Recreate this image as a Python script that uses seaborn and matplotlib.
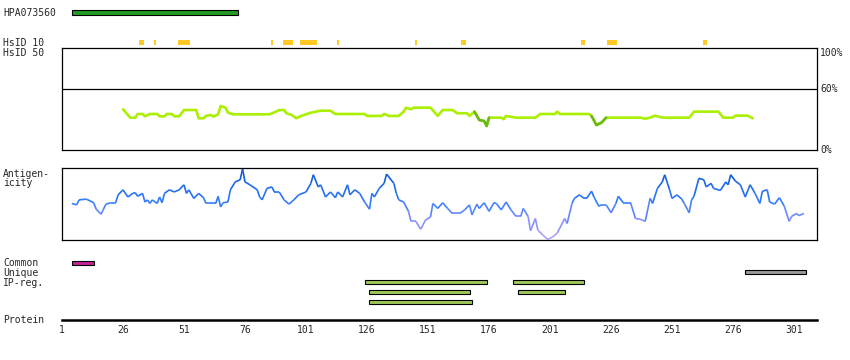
import numpy as np
import matplotlib
matplotlib.use('Agg')
import matplotlib.pyplot as plt
from matplotlib.collections import LineCollection
from matplotlib.colors import LinearSegmentedColormap
import seaborn as sns

# ---- data (residue positions) ----
hpa_label = "HPA073560"
hpa_range = (5, 73)

hsid10_starts = [33, 39, 49, 87, 92, 99, 114, 146, 165, 214, 225, 227, 264]
hsid10_ends = [34, 39, 53, 87, 95, 105, 114, 146, 166, 215, 226, 228, 265]

ident_pos = [26, 29, 31, 32, 34, 35, 37, 40, 41, 43, 44, 46, 47, 49, 51, 56, 57, 59,
             60, 62, 63, 65, 66, 68, 69, 71, 86, 88, 90, 92, 93, 95, 97, 99, 103, 107,
             111, 113, 125, 126, 132, 133, 135, 139, 141, 142, 144, 145, 152, 155, 157,
             161, 163, 167, 168, 170, 172, 174, 175, 176, 181, 182, 183, 187, 195, 197,
             203, 204, 205, 208, 217, 218, 220, 222, 224, 238, 240, 242, 244, 247, 258,
             260, 270, 272, 276, 277, 282, 284]
ident_val = [40.2, 32, 32, 35.6, 35.6, 33.3, 35.6, 35.6, 33.3, 33.3, 35.6, 35.6, 33.3,
             33.3, 39.5, 39.5, 31.4, 31.4, 33.7, 34.7, 33, 35.3, 43.4, 41.8, 36.9, 35.3,
             35.3, 37.2, 39.5, 39.5, 36.3, 34.7, 31.4, 33.7, 36.9, 38.8, 38.8, 35.6, 35.6,
             33.7, 33.7, 35.6, 33.7, 33.7, 37.9, 41.8, 40.2, 41.8, 41.8, 33.7, 39.5, 39.5,
             36.3, 36.3, 33.7, 37.9, 29.7, 28.7, 23.8, 32, 32, 30.5, 33.7, 32, 32, 35.6,
             35.6, 37.9, 35.6, 35.6, 35.6, 33.7, 24.8, 27, 32, 32, 31, 32, 34, 32, 32,
             37.9, 37.9, 32, 32, 34, 34, 31.4]

antig_pos = [5, 7, 8, 11, 14, 15, 17, 18, 19, 21, 23, 24, 26, 28, 30, 31, 32, 34, 35, 36,
             37, 38, 40, 41, 42, 43, 45, 47, 49, 51, 52, 53, 55, 57, 59, 60, 64, 65, 66,
             67, 69, 70, 72, 74, 75, 76, 78, 81, 82, 83, 85, 87, 88, 90, 92, 94, 96, 98,
             101, 103, 104, 106, 107, 109, 111, 113, 114, 116, 118, 119, 121, 123, 125,
             127, 128, 129, 131, 133, 134, 137, 138, 139, 141, 143, 144, 146, 148, 150,
             152, 153, 155, 157, 159, 161, 164, 166, 168, 169, 171, 172, 174, 176, 178,
             179, 181, 183, 185, 187, 189, 190, 192, 193, 195, 196, 198, 200, 202, 204,
             207, 208, 210, 211, 213, 215, 216, 218, 219, 221, 222, 224, 226, 228, 229,
             231, 234, 236, 238, 240, 242, 243, 245, 247, 248, 250, 251, 253, 255, 256,
             258, 259, 260, 262, 264, 265, 267, 268, 270, 271, 273, 274, 275, 277, 279,
             281, 283, 285, 287, 288, 290, 291, 293, 295, 297, 299, 300, 302, 303, 305]
antig_val = [0.51, 0.49, 0.56, 0.57, 0.52, 0.43, 0.36, 0.43, 0.50, 0.52, 0.52, 0.63, 0.70,
             0.60, 0.65, 0.66, 0.61, 0.65, 0.53, 0.56, 0.51, 0.56, 0.51, 0.60, 0.52, 0.65,
             0.70, 0.67, 0.70, 0.77, 0.65, 0.70, 0.58, 0.65, 0.59, 0.51, 0.51, 0.61, 0.46,
             0.52, 0.53, 0.70, 0.81, 0.84, 0.99, 0.81, 0.77, 0.70, 0.60, 0.56, 0.72, 0.74,
             0.67, 0.67, 0.56, 0.50, 0.56, 0.63, 0.67, 0.79, 0.91, 0.74, 0.77, 0.60, 0.67,
             0.59, 0.67, 0.60, 0.77, 0.63, 0.70, 0.65, 0.53, 0.43, 0.65, 0.60, 0.72, 0.79,
             0.92, 0.79, 0.65, 0.56, 0.53, 0.40, 0.26, 0.26, 0.15, 0.28, 0.32, 0.51, 0.44,
             0.52, 0.44, 0.37, 0.37, 0.42, 0.49, 0.35, 0.50, 0.44, 0.52, 0.40, 0.52, 0.51,
             0.42, 0.53, 0.42, 0.33, 0.33, 0.44, 0.33, 0.13, 0.30, 0.14, 0.07, 0.01, 0.04,
             0.10, 0.30, 0.23, 0.51, 0.58, 0.63, 0.58, 0.58, 0.68, 0.60, 0.47, 0.49, 0.49,
             0.38, 0.51, 0.61, 0.52, 0.52, 0.30, 0.29, 0.26, 0.58, 0.51, 0.72, 0.81, 0.91,
             0.70, 0.58, 0.63, 0.57, 0.51, 0.38, 0.56, 0.61, 0.86, 0.84, 0.74, 0.79, 0.72,
             0.70, 0.70, 0.81, 0.77, 0.91, 0.82, 0.77, 0.60, 0.77, 0.65, 0.51, 0.68, 0.70,
             0.53, 0.50, 0.59, 0.47, 0.26, 0.33, 0.37, 0.34, 0.37]

common_ranges = [(5, 14)]
unique_ranges = [(281, 306)]
ipreg_rows = [[(125, 175), (186, 215)],
              [(127, 168), (188, 207)],
              [(127, 169)]]

protein_len = 310.4
axis_ticks = [1, 26, 51, 76, 101, 126, 151, 176, 201, 226, 251, 276, 301]

# ---- layout (pixels) ----
W, H = 850, 360
X0, X1 = 62, 817
MONO = 'DejaVu Sans Mono'
FS = 7

sns.set_style("white")
plt.rcParams['font.family'] = [MONO, 'DejaVu Sans']

fig = plt.figure(figsize=(W / 100, H / 100), dpi=100)


def fy(y):
    return 1 - y / H


def panel(top, bottom):
    return fig.add_axes([X0 / W, fy(bottom), (X1 - X0) / W, (bottom - top) / H])


# background track area: x in residues, y in pixels
bg = fig.add_axes([X0 / W, 0, (X1 - X0) / W, 1])
bg.set_xlim(1, protein_len)
bg.set_ylim(H, 0)
bg.axis('off')


def draw_ranges(ranges, y, h, color, edge=True):
    for s, e in ranges:
        bg.barh(y, e - s, left=s, height=h, color=color,
                edgecolor='black' if edge else 'none', linewidth=0.8 if edge else 0)


draw_ranges([hpa_range], 12.5, 4.2, '#239a23')
draw_ranges([(s - 0.5, e + 0.5) for s, e in zip(hsid10_starts, hsid10_ends)],
            42.3, 4.6, '#ffc824', edge=False)
draw_ranges(common_ranges, 262.5, 4.0, '#c8209a')
draw_ranges(unique_ranges, 272.3, 4.0, '#9a9a9a')
for i, row in enumerate(ipreg_rows):
    draw_ranges(row, 282.3 + 10 * i, 4.0, '#9dc95a')

# identity panel
ax_id = panel(48.3, 150.3)
ax_id.set_xlim(1, protein_len)
ax_id.set_ylim(0, 100)
ax_id.set_xticks([])
ax_id.set_yticks([])
for sp in ax_id.spines.values():
    sp.set_linewidth(0.9)
    sp.set_color('black')
ax_id.axhline(60, color='black', lw=0.9)
ipos = np.array(ident_pos, dtype=float)
ival = np.array(ident_val, dtype=float)
sns.lineplot(x=ipos, y=ival, ax=ax_id, color='#aaf000', lw=1.9, estimator=None, sort=False)
low = ival < 30
low_ext = low | np.r_[low[1:], False] | np.r_[False, low[:-1]]
ax_id.plot(ipos, np.where(low_ext, ival, np.nan), color='#6cb818', lw=1.9)
ax_id.text(1.004, 1.0, "100%", transform=ax_id.transAxes, va='top', ha='left', fontsize=FS)
ax_id.text(1.004, 0.6, "60%", transform=ax_id.transAxes, va='center', ha='left', fontsize=FS)
ax_id.text(1.004, 0.0, "0%", transform=ax_id.transAxes, va='center', ha='left', fontsize=FS)

# antigenicity panel
ax_ag = panel(168.3, 240)
ax_ag.set_xlim(1, protein_len)
ax_ag.set_ylim(0, 1.0)
ax_ag.set_xticks([])
ax_ag.set_yticks([])
for sp in ax_ag.spines.values():
    sp.set_linewidth(0.9)
    sp.set_color('black')
apos = np.array(antig_pos, dtype=float)
aval = np.array(antig_val, dtype=float)
cmap = LinearSegmentedColormap.from_list(
    'ag', [(0, '#b4a6f6'), (0.3, '#7d8cff'), (0.55, '#2f7cff'), (1.0, '#0a52cc')])
pts = np.column_stack([apos, aval])
segs = np.stack([pts[:-1], pts[1:]], axis=1)
lc = LineCollection(segs, cmap=cmap, linewidths=1.2)
lc.set_array((aval[:-1] + aval[1:]) / 2)
lc.set_clim(0, 1)
ax_ag.add_collection(lc)

# protein axis
ax_p = fig.add_axes([X0 / W, fy(319.5), (X1 - X0) / W, 0.001])
ax_p.set_xlim(1, protein_len)
for k in ['top', 'left', 'right']:
    ax_p.spines[k].set_visible(False)
ax_p.spines['bottom'].set_linewidth(1.8)
ax_p.spines['bottom'].set_color('black')
ax_p.set_yticks([])
ax_p.set_xticks(axis_ticks)
ax_p.set_xticks([protein_len], minor=True)
ax_p.tick_params(axis='x', which='both', direction='inout', length=5, width=1.4,
                 pad=1.5, labelsize=FS, color='black')
ax_p.patch.set_alpha(0)

# left labels (baseline positions in pixels)
labels = [("HPA073560", 16), ("HsID 10", 45.7), ("HsID 50", 55.7),
          ("Antigen-", 176.7), ("icity", 186.3), ("Common", 265.7),
          ("Unique", 275.7), ("IP-reg.", 285.7), ("Protein", 322.7)]
for s, yb in labels:
    fig.text(3 / W, fy(yb), s, ha='left', va='baseline', fontsize=FS)

fig.savefig('out.png', dpi=100)
